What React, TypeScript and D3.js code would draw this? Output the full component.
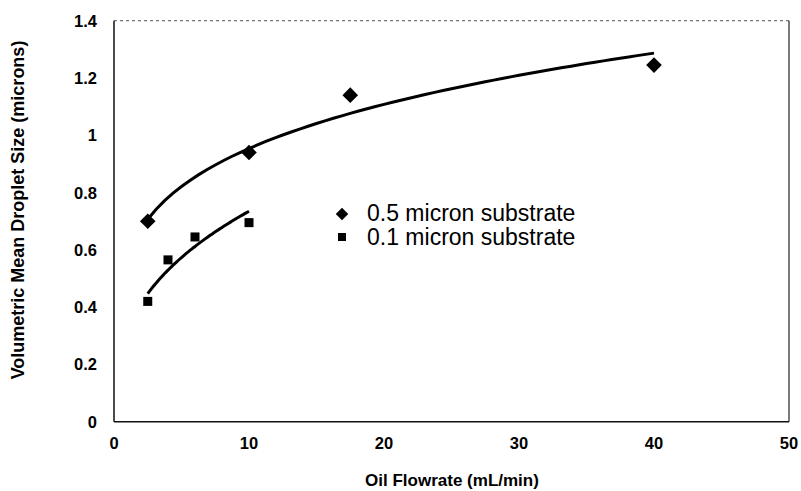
import React, { useRef, useEffect } from 'react';
import * as d3 from 'd3';

// Data
const flow05 = [2.5, 10, 17.5, 40];
const size05 = [0.70, 0.94, 1.14, 1.245];
const flow01 = [2.5, 4, 6, 10];
const size01 = [0.42, 0.565, 0.645, 0.695];

const xTicks = [0, 10, 20, 30, 40, 50];
const yTicks = [0, 0.2, 0.4, 0.6, 0.8, 1, 1.2, 1.4];

const seriesNames = ['0.5 micron substrate', '0.1 micron substrate'];

// power trendline y = c * x^p, least squares in log space (like Excel)
const powerFit = (xs: number[], ys: number[]) => {
    const lx = xs.map(Math.log);
    const ly = ys.map(Math.log);
    const mx = d3.mean(lx) as number;
    const my = d3.mean(ly) as number;
    let sxy = 0, sxx = 0;
    lx.forEach((v, i) => {
        sxy += (v - mx) * (ly[i] - my);
        sxx += (v - mx) * (v - mx);
    });
    const p = sxy / sxx;
    const c = Math.exp(my - p * mx);
    return (x: number) => c * Math.pow(x, p);
};

const App = () => {
    const chartRef = useRef<SVGSVGElement | null>(null);

    useEffect(() => {
        const width = 801;
        const height = 491;
        const svg = d3.select(chartRef.current)
            .attr('width', width)
            .attr('height', height);
        svg.selectAll('*').remove();

        const left = 114, right = 789, top = 20.7, bottom = 421.7;

        const xScale = d3.scaleLinear().domain([0, 50]).range([left, right]);
        const yScale = d3.scaleLinear().domain([0, 1.4]).range([bottom, top]);

        const font = 'Arial, "Liberation Sans", Helvetica, sans-serif';

        // plot frame
        svg.append('line')
            .attr('x1', left).attr('x2', right)
            .attr('y1', top).attr('y2', top)
            .attr('stroke', '#777').attr('stroke-width', 1.2)
            .attr('stroke-dasharray', '3,3');
        svg.append('line')
            .attr('x1', right).attr('x2', right)
            .attr('y1', top).attr('y2', bottom)
            .attr('stroke', '#222').attr('stroke-width', 1.2);
        svg.append('line')
            .attr('x1', left).attr('x2', left)
            .attr('y1', top).attr('y2', bottom)
            .attr('stroke', '#111').attr('stroke-width', 1.5);
        svg.append('line')
            .attr('x1', left).attr('x2', right)
            .attr('y1', bottom).attr('y2', bottom)
            .attr('stroke', '#111').attr('stroke-width', 1.5);

        // y tick labels
        svg.selectAll('.ytick')
            .data(yTicks)
            .enter().append('text')
            .attr('class', 'ytick')
            .attr('x', 97)
            .attr('y', d => yScale(d) + 6)
            .attr('text-anchor', 'end')
            .attr('font-family', font)
            .attr('font-weight', 'bold')
            .attr('font-size', 16.5)
            .text(d => String(d));

        // x tick labels
        svg.selectAll('.xtick')
            .data(xTicks)
            .enter().append('text')
            .attr('class', 'xtick')
            .attr('x', d => xScale(d))
            .attr('y', 449)
            .attr('text-anchor', 'middle')
            .attr('font-family', font)
            .attr('font-weight', 'bold')
            .attr('font-size', 16.5)
            .text(d => String(d));

        // axis titles
        svg.append('text')
            .attr('x', 452)
            .attr('y', 486)
            .attr('text-anchor', 'middle')
            .attr('font-family', font)
            .attr('font-weight', 'bold')
            .attr('font-size', 17)
            .text('Oil Flowrate (mL/min)');

        svg.append('text')
            .attr('transform', 'translate(24,210) rotate(-90)')
            .attr('text-anchor', 'middle')
            .attr('font-family', font)
            .attr('font-weight', 'bold')
            .attr('font-size', 18)
            .text('Volumetric Mean Droplet Size (microns)');

        // trendlines
        const line = d3.line<number[]>()
            .x(d => xScale(d[0]))
            .y(d => yScale(d[1]));

        const addTrend = (xs: number[], ys: number[]) => {
            const f = powerFit(xs, ys);
            const x0 = d3.min(xs) as number, x1 = d3.max(xs) as number;
            const pts = d3.range(0, 61).map(i => {
                const x = x0 + (x1 - x0) * i / 60;
                return [x, f(x)];
            });
            svg.append('path')
                .datum(pts)
                .attr('d', line)
                .attr('fill', 'none')
                .attr('stroke', '#000')
                .attr('stroke-width', 3);
        };
        addTrend(flow05, size05);
        addTrend(flow01, size01);

        // markers
        const diamond = d3.symbol().type(d3.symbolDiamond2).size(155);
        svg.selectAll('.dia')
            .data(flow05)
            .enter().append('path')
            .attr('class', 'dia')
            .attr('d', diamond)
            .attr('transform', (d, i) => `translate(${xScale(d)},${yScale(size05[i])})`)
            .attr('fill', '#000');

        svg.selectAll('.sq')
            .data(flow01)
            .enter().append('rect')
            .attr('class', 'sq')
            .attr('x', d => xScale(d) - 4.5)
            .attr('y', (d, i) => yScale(size01[i]) - 4.5)
            .attr('width', 9)
            .attr('height', 9)
            .attr('fill', '#000');

        // legend
        const legend = svg.append('g')
            .attr('transform', 'translate(342,214)');
        legend.append('path')
            .attr('d', d3.symbol().type(d3.symbolDiamond2).size(100)())
            .attr('fill', '#000');
        legend.append('rect')
            .attr('x', -4).attr('y', 19)
            .attr('width', 8).attr('height', 8)
            .attr('fill', '#000');
        seriesNames.forEach((name, i) => {
            legend.append('text')
                .attr('x', 25)
                .attr('y', 7 + i * 24)
                .attr('font-family', font)
                .attr('font-size', 23)
                .attr('fill', '#000')
                .text(name);
        });
    }, []);

    return (
        <svg ref={chartRef} style={{ position: 'absolute', left: 0, top: 0, background: '#fff' }} />
    );
};

export default App;
